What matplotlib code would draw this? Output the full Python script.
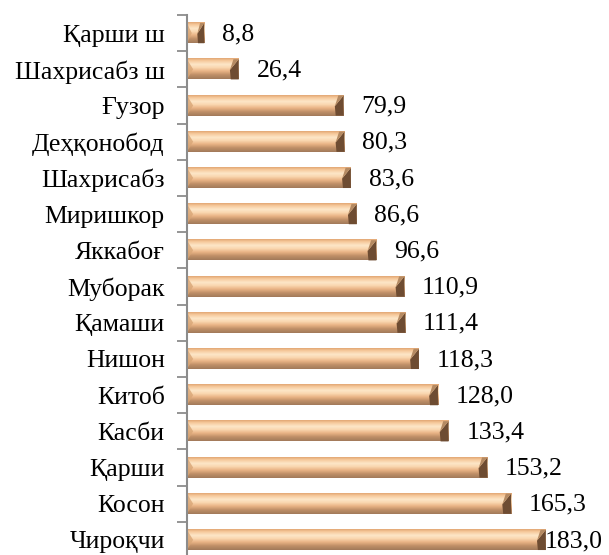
import numpy as np
import matplotlib.pyplot as plt
from matplotlib.colors import LinearSegmentedColormap
from matplotlib.patches import Polygon

districts = ['Қарши ш', 'Шахрисабз ш', 'Ғузор', 'Деҳқонобод', 'Шахрисабз',
             'Миришкор', 'Яккабоғ', 'Муборак', 'Қамаши', 'Нишон',
             'Китоб', 'Касби', 'Қарши', 'Косон', 'Чироқчи']
values = [8.8, 26.4, 79.9, 80.3, 83.6, 86.6, 96.6, 110.9, 111.4, 118.3,
          128.0, 133.4, 153.2, 165.3, 183.0]
value_labels = ['8,8', '26,4', '79,9', '80,3', '83,6', '86,6', '96,6', '110,9',
                '111,4', '118,3', '128,0', '133,4', '153,2', '165,3', '183,0']

plt.rcParams['font.family'] = ['Liberation Serif', 'DejaVu Serif']

fig = plt.figure(figsize=(6.09, 5.55), dpi=100)
ax = fig.add_axes([0.307, -0.0054, 0.644, 0.9784])

# vertical shading of a bevelled bar, top to bottom
bevel = LinearSegmentedColormap.from_list('bevel', [
    (0.0, '#e2a874'), (0.12, '#f6c99c'), (0.3, '#fde6c8'), (0.45, '#fad7b0'),
    (0.62, '#e9b486'), (0.8, '#c09068'), (1.0, '#a27a5a')])
grad = np.linspace(0, 1, 64).reshape(-1, 1)

h = 0.56
end = 4.5  # bevel depth in data units
for i, v in enumerate(values):
    top, bot = i - h / 2, i + h / 2
    ax.imshow(grad, cmap=bevel, extent=[0, v, bot, top], aspect='auto',
              interpolation='bilinear', zorder=2)
    d = min(end, v * 0.4)
    # dark right face
    ax.add_patch(Polygon([(v - d, i + 0.02), (v, top), (v, bot), (v - d * 0.9, bot)],
                         closed=True, facecolor='#6e4c32', edgecolor='none', zorder=3))
    ax.add_patch(Polygon([(v - d, i + 0.02), (v, top), (v - d * 0.6, top)],
                         closed=True, facecolor='#b58a62', edgecolor='none', zorder=3))
    # light left face
    ax.add_patch(Polygon([(0, top), (d * 0.7, i), (0, bot)],
                         closed=True, facecolor='#d9a676', edgecolor='none', alpha=0.8, zorder=3))
    tx = min(v + 9.0, 182.5)
    ax.text(tx, i + 0.03, value_labels[i], va='center', ha='left', fontsize=18.5, zorder=4)

ax.set_xlim(0, 200)
ax.set_ylim(len(values) - 0.5, -0.5)

ax.set_yticks(range(len(districts)))
ax.set_yticklabels(districts, fontsize=18.5)
ax.tick_params(axis='y', which='major', length=0, pad=16)
ax.set_yticks(np.arange(-0.5, len(values), 1), minor=True)
ax.tick_params(axis='y', which='minor', length=7, width=1.3, color='#8c8c8c', direction='out')
ax.set_xticks([])

for s in ['top', 'right', 'bottom']:
    ax.spines[s].set_visible(False)
ax.spines['left'].set_color('#8c8c8c')
ax.spines['left'].set_linewidth(1.5)
ax.spines['left'].set_zorder(5)

fig.savefig('out.png', dpi=100)
